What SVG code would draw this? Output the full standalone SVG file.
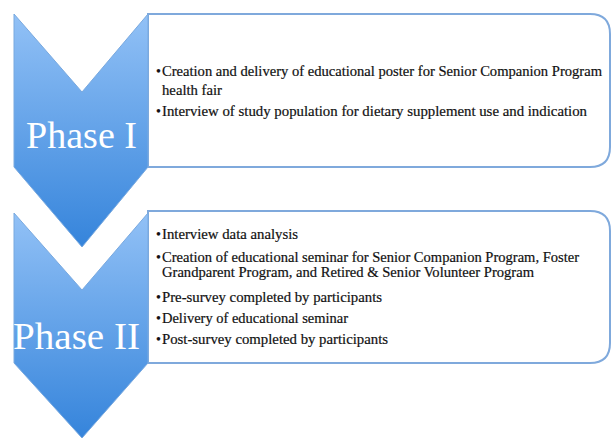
<svg xmlns="http://www.w3.org/2000/svg" width="611" height="441" viewBox="0 0 611 441">
<defs>
<linearGradient id="g" x1="0" y1="0" x2="0" y2="1">
<stop offset="0" stop-color="#92c1f6"/>
<stop offset="1" stop-color="#3584db"/>
</linearGradient>
<style>
.chev{fill:url(#g);stroke:#79a9df;stroke-width:1}
.box{fill:#fff;stroke:#7fa9dc;stroke-width:2}
.t{font-family:"Liberation Serif",serif;font-size:14px;fill:#111;stroke:#111;stroke-width:0.2}
.ph{font-family:"Liberation Serif",serif;font-size:37px;fill:#fff}
</style>
</defs>
<g id="phase1">
<path class="box" d="M148,14 H590 Q610,14 610,34 V147 Q610,167 590,167 H148 Z"/>
<path class="chev" d="M14,14 L82,92 L148,14 V167 L82,247 L14,167 Z"/>
<text class="ph" x="26" y="148" textLength="111" lengthAdjust="spacingAndGlyphs">Phase I</text>
<text class="t" x="156" y="76">•</text>
<text class="t" x="162" y="76" textLength="440" lengthAdjust="spacingAndGlyphs">Creation and delivery of educational poster for Senior Companion Program</text>
<text class="t" x="162" y="95" textLength="60" lengthAdjust="spacingAndGlyphs">health fair</text>
<text class="t" x="156" y="116">•</text>
<text class="t" x="162" y="116" textLength="425" lengthAdjust="spacingAndGlyphs">Interview of study population for dietary supplement use and indication</text>
</g>
<g id="phase2">
<path class="box" d="M148,211 H590 Q610,211 610,231 V343 Q610,363 590,363 H148 Z"/>
<path class="chev" d="M14,213 L82,290 L148,213 V363 L82,438 L14,363 Z"/>
<text class="ph" x="13" y="349" textLength="127" lengthAdjust="spacingAndGlyphs">Phase II</text>
<text class="t" x="156" y="239">•</text>
<text class="t" x="162" y="239" textLength="136" lengthAdjust="spacingAndGlyphs">Interview data analysis</text>
<text class="t" x="156" y="262">•</text>
<text class="t" x="162" y="262" textLength="417" lengthAdjust="spacingAndGlyphs">Creation of educational seminar for Senior Companion Program, Foster</text>
<text class="t" x="162" y="277" textLength="372" lengthAdjust="spacingAndGlyphs">Grandparent Program, and Retired &amp; Senior Volunteer Program</text>
<text class="t" x="156" y="302">•</text>
<text class="t" x="162" y="302" textLength="220" lengthAdjust="spacingAndGlyphs">Pre-survey completed by participants</text>
<text class="t" x="156" y="323">•</text>
<text class="t" x="162" y="323" textLength="186" lengthAdjust="spacingAndGlyphs">Delivery of educational seminar</text>
<text class="t" x="156" y="344">•</text>
<text class="t" x="162" y="344" textLength="226" lengthAdjust="spacingAndGlyphs">Post-survey completed by participants</text>
</g>
<g id="connectors"/>
</svg>
